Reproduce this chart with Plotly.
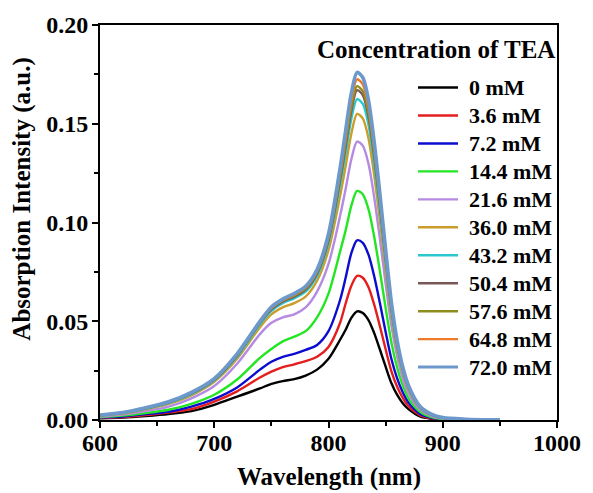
import plotly.graph_objects as go

# Wavelength grid (nm)
wavelength = [600, 620, 640, 660, 680, 700, 720, 740, 750, 760, 770, 780, 790, 800,
              810, 815, 820, 825, 830, 835, 840, 845, 850, 855, 860, 865, 870, 880,
              890, 900, 920, 950]

# Absorption spectra for each TEA concentration (a.u.)
abs_0 = [0.0008, 0.0012, 0.0020, 0.0030, 0.0045, 0.0077, 0.0118, 0.0160, 0.0183, 0.0197,
         0.0207, 0.0225, 0.0255, 0.0310, 0.0405, 0.0457, 0.0517, 0.0550, 0.0542, 0.0506,
         0.0440, 0.0357, 0.0270, 0.0187, 0.0128, 0.0085, 0.0055, 0.0018, 0.0006, 0.0002,
         0.0001, 0.0]
abs_3_6 = [0.0010, 0.0015, 0.0025, 0.0038, 0.0055, 0.0093, 0.0145, 0.0215, 0.0245, 0.0268,
           0.0282, 0.0298, 0.0320, 0.0370, 0.0490, 0.0590, 0.0680, 0.0730, 0.0720, 0.0672,
           0.0584, 0.0475, 0.0358, 0.0248, 0.0170, 0.0112, 0.0070, 0.0025, 0.0008, 0.0003,
           0.0001, 0.0]
abs_7_2 = [0.0012, 0.0018, 0.0030, 0.0042, 0.0068, 0.0107, 0.0165, 0.0255, 0.0295, 0.0320,
           0.0335, 0.0355, 0.0380, 0.0450, 0.0605, 0.0720, 0.0845, 0.0910, 0.0897, 0.0837,
           0.0728, 0.0592, 0.0446, 0.0310, 0.0212, 0.0140, 0.0088, 0.0032, 0.0011, 0.0004,
           0.0001, 0.0]
abs_14_4 = [0.0014, 0.0022, 0.0035, 0.0052, 0.0082, 0.0128, 0.0205, 0.0315, 0.0360, 0.0398,
            0.0422, 0.0450, 0.0520, 0.0640, 0.0850, 0.0960, 0.1085, 0.1160, 0.1143, 0.1067,
            0.0928, 0.0754, 0.0568, 0.0394, 0.0268, 0.0175, 0.0110, 0.0042, 0.0015, 0.0005,
            0.0001, 0.0]
abs_21_6 = [0.0018, 0.0028, 0.0045, 0.0068, 0.0110, 0.0172, 0.0285, 0.0435, 0.0492, 0.0520,
            0.0535, 0.0570, 0.0650, 0.0790, 0.1030, 0.1170, 0.1320, 0.1410, 0.1389, 0.1297,
            0.1128, 0.0917, 0.0691, 0.0479, 0.0325, 0.0210, 0.0135, 0.0052, 0.0020, 0.0007,
            0.0002, 0.0]
abs_36_0 = [0.0022, 0.0033, 0.0054, 0.0082, 0.0125, 0.0193, 0.0310, 0.0470, 0.0535, 0.0570,
            0.0592, 0.0625, 0.0705, 0.0860, 0.1130, 0.1285, 0.1450, 0.1550, 0.1527, 0.1426,
            0.1240, 0.1008, 0.0760, 0.0527, 0.0358, 0.0238, 0.0155, 0.0060, 0.0024, 0.0009,
            0.0003, 0.0001]
abs_43_2 = [0.0023, 0.0035, 0.0057, 0.0086, 0.0131, 0.0200, 0.0320, 0.0485, 0.0553, 0.0592,
            0.0616, 0.0650, 0.0730, 0.0895, 0.1185, 0.1350, 0.1525, 0.1625, 0.1601, 0.1495,
            0.1300, 0.1056, 0.0796, 0.0553, 0.0375, 0.0248, 0.0162, 0.0064, 0.0026, 0.0010,
            0.0003, 0.0001]
abs_50_4 = [0.0024, 0.0036, 0.0059, 0.0088, 0.0134, 0.0204, 0.0326, 0.0492, 0.0560, 0.0600,
            0.0625, 0.0660, 0.0742, 0.0910, 0.1210, 0.1385, 0.1565, 0.1670, 0.1645, 0.1536,
            0.1336, 0.1086, 0.0818, 0.0568, 0.0385, 0.0255, 0.0166, 0.0066, 0.0027, 0.0011,
            0.0003, 0.0001]
abs_57_6 = [0.0024, 0.0037, 0.0060, 0.0090, 0.0137, 0.0206, 0.0330, 0.0495, 0.0565, 0.0605,
            0.0630, 0.0666, 0.0750, 0.0922, 0.1225, 0.1405, 0.1585, 0.1690, 0.1665, 0.1555,
            0.1352, 0.1099, 0.0828, 0.0575, 0.0390, 0.0259, 0.0170, 0.0068, 0.0028, 0.0011,
            0.0003, 0.0001]
abs_64_8 = [0.0025, 0.0038, 0.0061, 0.0091, 0.0139, 0.0208, 0.0333, 0.0498, 0.0568, 0.0608,
            0.0635, 0.0671, 0.0756, 0.0932, 0.1250, 0.1435, 0.1620, 0.1725, 0.1699, 0.1587,
            0.1380, 0.1121, 0.0845, 0.0587, 0.0398, 0.0264, 0.0172, 0.0069, 0.0029, 0.0012,
            0.0004, 0.0001]
abs_72_0 = [0.0025, 0.0038, 0.0062, 0.0092, 0.0140, 0.0210, 0.0335, 0.0500, 0.0572, 0.0612,
            0.0640, 0.0677, 0.0762, 0.0942, 0.1270, 0.1465, 0.1655, 0.1760, 0.1734, 0.1619,
            0.1408, 0.1144, 0.0862, 0.0598, 0.0405, 0.0268, 0.0175, 0.0070, 0.0030, 0.0012,
            0.0004, 0.0001]

labels = ["0 mM", "3.6 mM", "7.2 mM", "14.4 mM", "21.6 mM", "36.0 mM",
          "43.2 mM", "50.4 mM", "57.6 mM", "64.8 mM", "72.0 mM"]
series = [abs_0, abs_3_6, abs_7_2, abs_14_4, abs_21_6, abs_36_0,
          abs_43_2, abs_50_4, abs_57_6, abs_64_8, abs_72_0]
colors = ["#000000", "#e41e1e", "#0c0cd0", "#22e622", "#b48ae2", "#cc9c2c",
          "#2cc8d0", "#7a5858", "#8e8e1e", "#ec7a28", "#6c98cc"]
widths = [2.4, 2.4, 2.4, 2.4, 2.4, 2.4, 2.4, 2.4, 2.4, 2.4, 3.6]

FONT = "Liberation Serif"

# Plot area in pixels (used to place the hand-built legend)
W, H = 593, 493
ML, MR, MT, MB = 100, 36, 22, 73
PW, PH = W - ML - MR, H - MT - MB


def px_to_paper(x, y):
    return (x - ML) / PW, (H - MB - y) / PH


fig = go.Figure()
for name, y, c, w in zip(labels, series, colors, widths):
    fig.add_trace(go.Scatter(
        x=wavelength, y=y, name=name, mode="lines", showlegend=False,
        line=dict(color=c, width=w, shape="spline", smoothing=0.8),
    ))

axis_common = dict(
    showline=True, linecolor="black", linewidth=2, mirror=True,
    ticks="outside", ticklen=6, tickwidth=2, tickcolor="black",
    showgrid=False, zeroline=False,
    tickfont=dict(family=FONT, size=24, color="black"),
)

fig.update_xaxes(
    range=[600, 1000], dtick=100, tick0=600,
    minor=dict(dtick=50, ticks="outside", ticklen=4, tickwidth=2, tickcolor="black"),
    ticklabelstandoff=-6,
    **axis_common,
)
fig.update_yaxes(
    range=[0, 0.2], dtick=0.05, tick0=0, tickformat=".2f",
    minor=dict(dtick=0.025, ticks="outside", ticklen=4, tickwidth=2, tickcolor="black"),
    ticklabelstandoff=-1,
    **axis_common,
)

# Legend: title, sample lines and labels
shapes = []
annotations = []
tx, ty = px_to_paper(557, 47)
annotations.append(dict(
    text="<b>Concentration of TEA</b>", x=tx, y=ty, xref="paper", yref="paper",
    xanchor="right", yanchor="middle", showarrow=False,
    font=dict(family=FONT, size=25, color="black")))

row0, row_step = 85, 28.17
for i, (lab, c, w) in enumerate(zip(labels, colors, widths)):
    yc = row0 + i * row_step
    x0, yp = px_to_paper(418, yc)
    x1, _ = px_to_paper(458, yc)
    xt, _ = px_to_paper(467, yc)
    shapes.append(dict(type="line", xref="paper", yref="paper",
                       x0=x0, x1=x1, y0=yp, y1=yp,
                       line=dict(color=c, width=min(w, 3))))
    annotations.append(dict(
        text="<b>" + lab + "</b>", x=xt, y=yp, xref="paper", yref="paper",
        xanchor="left", yanchor="middle", showarrow=False,
        font=dict(family=FONT, size=22, color="black")))

# Axis titles
xt_x, xt_y = px_to_paper(ML + PW / 2, 477)
annotations.append(dict(
    text="<b>Wavelength (nm)</b>", x=xt_x, y=xt_y, xref="paper", yref="paper",
    xanchor="center", yanchor="middle", showarrow=False,
    font=dict(family=FONT, size=25, color="black")))
yt_x, yt_y = px_to_paper(22, 198)
annotations.append(dict(
    text="<b>Absorption Intensity (a.u.)</b>", x=yt_x, y=yt_y,
    xref="paper", yref="paper", xanchor="center", yanchor="middle",
    textangle=-90, showarrow=False,
    font=dict(family=FONT, size=25, color="black")))

fig.update_layout(
    width=W, height=H,
    margin=dict(l=ML, r=MR, t=MT, b=MB),
    plot_bgcolor="white", paper_bgcolor="white",
    font=dict(family=FONT, color="black"),
    showlegend=False,
    shapes=shapes,
    annotations=annotations,
)

# bold tick labels
fig.update_xaxes(tickprefix="<b>", ticksuffix="</b>")
fig.update_yaxes(tickprefix="<b>", ticksuffix="</b>")

fig.write_html("out.html")
